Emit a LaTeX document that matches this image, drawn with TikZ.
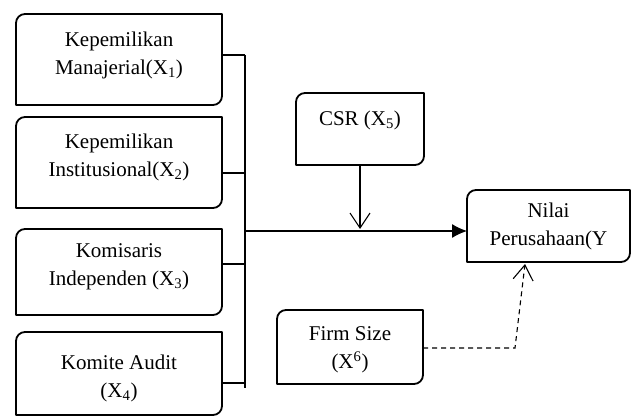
\documentclass[tikz,border=0pt]{standalone}
\usepackage{fontspec}
\setmainfont{Liberation Serif}
\usetikzlibrary{arrows.meta,calc}

\tikzset{
  box/.style={inner sep=0pt, outer sep=0pt},
  boxline/.style={line width=1.8pt, line join=round},
  txt/.style={font=\fontsize{21}{28}\selectfont, align=center, inner sep=0pt},
  link/.style={line width=1.1pt},
  barb/.style={-{Straight Barb[length=15pt,width=20pt,line width=1.1pt]}},
  solidtip/.style={-{Latex[length=15pt,width=14pt]}}
}

% box outline: rounded top-left and bottom-right corners, the other two square
\newcommand\diagbox[1]{%
  \draw[boxline] ($(#1.north west)+(0,-9pt)$) arc[start angle=180,end angle=90,radius=9pt]
    -- (#1.north east) -- ($(#1.south east)+(0,9pt)$)
    arc[start angle=0,end angle=-90,radius=9pt] -- (#1.south west) -- cycle;}

\begin{document}
\begin{tikzpicture}[x=1pt,y=1pt]
  \useasboundingbox (0,0) rectangle (632,-417);

  % independent variables on the left
  \node[box, minimum width=206pt, minimum height=91pt] (b1) at (119,-59.5) {};
  \node[box, minimum width=206pt, minimum height=91pt] (b2) at (119,-162.5) {};
  \node[box, minimum width=206pt, minimum height=86pt] (b3) at (119,-272) {};
  \node[box, minimum width=206pt, minimum height=83pt] (b4) at (119,-373.5) {};
  \diagbox{b1}\diagbox{b2}\diagbox{b3}\diagbox{b4}
  \node[txt] (t1) at (119,-55) {Kepemilikan\\Manajerial(X\textsubscript{1})};
  \node[txt] (t2) at (119,-157) {Kepemilikan\\Institusional(X\textsubscript{2})};
  \node[txt] (t3) at (119,-267) {Komisaris\\Independen (X\textsubscript{3})};
  \node[txt] (t4) at (119,-378) {Komite Audit\\(X\textsubscript{4})};

  % moderating / control variables and the dependent variable
  \node[box, minimum width=128pt, minimum height=72pt] (csr) at (360,-129) {};
  \node[box, minimum width=163pt, minimum height=72pt] (nilai) at (548.5,-226) {};
  \node[box, minimum width=146pt, minimum height=74pt] (firm) at (350,-347) {};
  \diagbox{csr}\diagbox{nilai}\diagbox{firm}
  \node[txt] (t5) at (360,-120) {CSR (X\textsubscript{5})};
  \node[txt] (t6) at (548.5,-226) {Nilai\\Perusahaan(Y};
  \node[txt] (t7) at (350,-350) {Firm Size\\(X\textsuperscript{6})};

  % bracket joining the four left boxes
  \coordinate (bt) at (245,-55);
  \coordinate (bb) at (245,-388);
  \coordinate (k2) at (245,-173);
  \coordinate (k3) at (245,-264);
  \coordinate (k4) at (245,-383);
  \draw[link] (bt) -- (bb);
  \draw[link] (b1.east |- bt) -- (bt);
  \draw[link] (b2.east |- k2) -- (k2);
  \draw[link] (b3.east |- k3) -- (k3);
  \draw[link] (b4.east |- k4) -- (k4);

  % main effect arrow
  \coordinate (j) at (245,-231);
  \draw[link, solidtip] (j) -- (nilai.west |- j);

  % CSR moderating arrow onto the main line
  \coordinate (m) at (360,-229);
  \draw[link, barb] (csr.south) -- (m);

  % firm size control, dashed
  \coordinate (d1) at (515,-348);
  \coordinate (d2) at (525,-264);
  \draw[link, dashed, dash pattern=on 5pt off 4pt, barb] (firm.east |- d1) -- (d1) -- (d2);
\end{tikzpicture}
\end{document}
